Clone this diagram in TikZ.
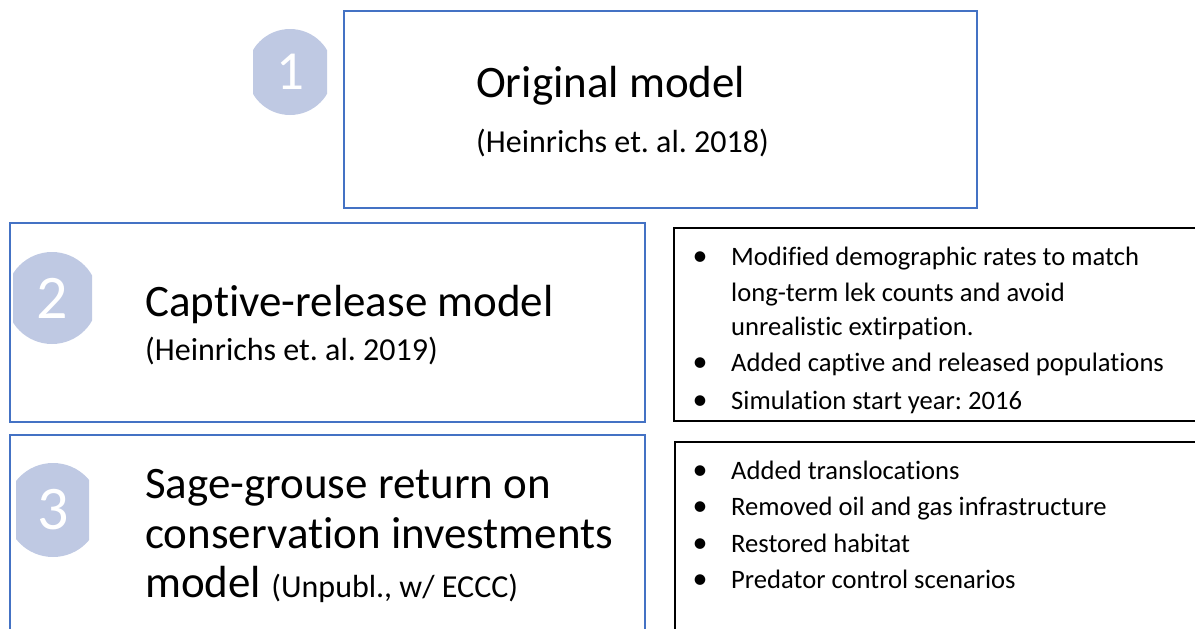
\documentclass[tikz,border=0pt]{standalone}
\usepackage{fontspec}
\setmainfont{Carlito}[Ligatures=NoCommon]
\frenchspacing
\definecolor{frameblue}{RGB}{68,114,196}
\definecolor{badge}{RGB}{191,201,227}
\begin{document}
\begin{tikzpicture}[x=1pt,y=-1pt,
  modelbox/.style={draw=frameblue, line width=1.8pt, inner sep=0pt, anchor=north west},
  notebox/.style={draw=black, line width=2pt, inner sep=0pt, anchor=north west},
  title/.style={anchor=base west, inner sep=0pt, font=\fontsize{45}{50}\selectfont},
  cite/.style={anchor=base west, inner sep=0pt, font=\fontsize{32}{36}\selectfont},
  item/.style={anchor=base west, inner sep=0pt, font=\fontsize{26.6}{30}\selectfont},
  dot/.style={anchor=base, inner sep=0pt, font=\fontsize{30}{30}\selectfont},
  numeral/.style={text=white, inner sep=0pt, font=\fontsize{62}{62}\selectfont}]
\useasboundingbox (0,0) rectangle (1195,629);
\clip (0,0) rectangle (1195,629);

% frames
\node[modelbox, minimum width=633pt, minimum height=197pt] (m1) at (343,10) {};
\node[modelbox, minimum width=635pt, minimum height=199pt] (m2) at (9,222) {};
\node[modelbox, minimum width=635pt, minimum height=220pt] (m3) at (9,434) {};
\node[notebox, minimum width=540pt, minimum height=193pt] (d2) at (673,227) {};
\node[notebox, minimum width=540pt, minimum height=210pt] (d3) at (674,441) {};

% numbered badges (circles trimmed left and right)
\begin{scope}
  \clip (253,0) rectangle (327,629);
  \fill[badge] (290,72) circle [radius=43pt];
\end{scope}
\begin{scope}
  \clip (13,0) rectangle (92,629);
  \fill[badge] (52,298) circle [radius=46pt];
\end{scope}
\begin{scope}
  \clip (16,0) rectangle (89,629);
  \fill[badge] (53,510) circle [radius=47pt];
\end{scope}
\node[numeral, font=\fontsize{55}{55}\selectfont] (n1) at (290,72) {1};
\node[numeral] (n2) at (52,298) {2};
\node[numeral] (n3) at (53,510) {3};

% model titles
\node[title] (t1) at (476,97) {Original model};
\node[cite] (c1) at (476,152) {(Heinrichs et. al. 2018)};
\node[title] (t2) at (145,316) {Captive-release model};
\node[cite] (c2) at (145,360) {(Heinrichs et. al. 2019)};
\node[title] (t3a) at (145,498) {Sage-grouse return on};
\node[title] (t3b) at (145,548) {conservation investments};
\node[title] (t3c) at (145,597) {model {\fontsize{32}{36}\selectfont (Unpubl., w/ ECCC)}};

% changes in model 2
\node[dot] (b21) at (700,265) {•};
\node[item] (i21a) at (731,265) {Modified demographic rates to match};
\node[item] (i21b) at (731,301) {long-term lek counts and avoid};
\node[item] (i21c) at (731,335) {unrealistic extirpation.};
\node[dot] (b22) at (700,371) {•};
\node[item] (i22) at (731,371) {Added captive and released populations};
\node[dot] (b23) at (700,409) {•};
\node[item] (i23) at (731,409) {Simulation start year: 2016};

% changes in model 3
\node[dot] (b31) at (700,479) {•};
\node[item] (i31) at (731,479) {Added translocations};
\node[dot] (b32) at (700,515) {•};
\node[item] (i32) at (731,515) {Removed oil and gas infrastructure};
\node[dot] (b33) at (700,552) {•};
\node[item] (i33) at (731,552) {Restored habitat};
\node[dot] (b34) at (700,588) {•};
\node[item] (i34) at (731,588) {Predator control scenarios};
\end{tikzpicture}
\end{document}
